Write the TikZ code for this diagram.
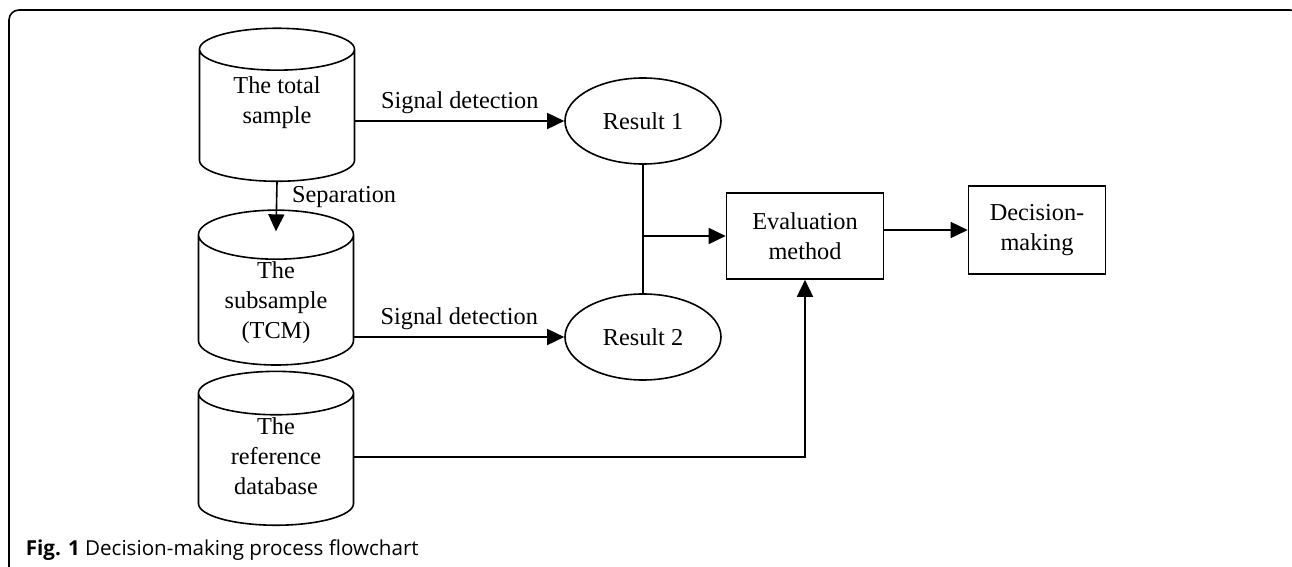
\documentclass[tikz,border=0pt]{standalone}
\usepackage{fontspec}
\setmainfont{Liberation Serif}
\newfontfamily\capfont{Open Sans}
\usetikzlibrary{shapes.geometric,arrows.meta}

\tikzset{
  db/.style={draw, cylinder, shape border rotate=90, shape aspect=0.46,
    minimum width=77.5pt, minimum height=76.5pt, align=center, inner sep=1pt},
  res/.style={draw, ellipse, minimum width=78pt, minimum height=43pt, inner sep=0pt},
  box/.style={draw, rectangle, minimum width=78.5pt, minimum height=43pt, align=center},
  arr/.style={-{Triangle[length=8.5pt,width=8pt]}},
}

\begin{document}
\begin{tikzpicture}[x=0.5pt, y=-0.5pt, line width=0.8pt,
    font=\fontsize{12.15}{15}\selectfont]
            \useasboundingbox (0,0) rectangle (1292,567);
            \clip (0,0) rectangle (1292,567);
            % frame
            \draw[rounded corners=5pt] (9,620) -- (9,10) -- (1300,10) -- (1300,620);

            \node[db, text depth=18pt] (total) at (277,118) {The total\\sample};
            \node[db] (sub) at (276,303) {The\\subsample\\(TCM)};
            \node[db, text depth=6pt] (refdb) at (276,462) {The\\reference\\database};
            \node[res] (r1) at (643,121) {Result 1};
            \node[res] (r2) at (643,337) {Result 2};
            \node[box] (eval) at (805,236) {Evaluation\\method};
            \node[box, minimum width=68.5pt, minimum height=44pt] (dec) at (1037,230) {Decision-\\making};

            \draw[arr] (total.east |- r1.west) -- (r1.west) node[midway, above] {Signal detection};
            \draw[arr] (total.south) -- ([yshift=-11pt]sub.north) node[pos=0.3, right, xshift=4pt] {Separation};
            \draw[arr] (sub.east |- r2.west) -- (r2.west) node[midway, above] {Signal detection};
            \draw (r1.south) -- (r2.north);
            \draw[arr] (r1.south |- eval.west) -- (eval.west);
            \draw[arr] ([yshift=2.5pt]refdb.east) -| (eval.south);
            \draw[arr] (eval.east |- dec.west) -- (dec.west);

            \node[anchor=base west, inner sep=0pt, font={\capfont\fontsize{10.3}{12}\selectfont}] (cap) at (25,555)
              {\textbf{Fig. 1} Decision-making process flowchart};
        \end{tikzpicture}
\end{document}
